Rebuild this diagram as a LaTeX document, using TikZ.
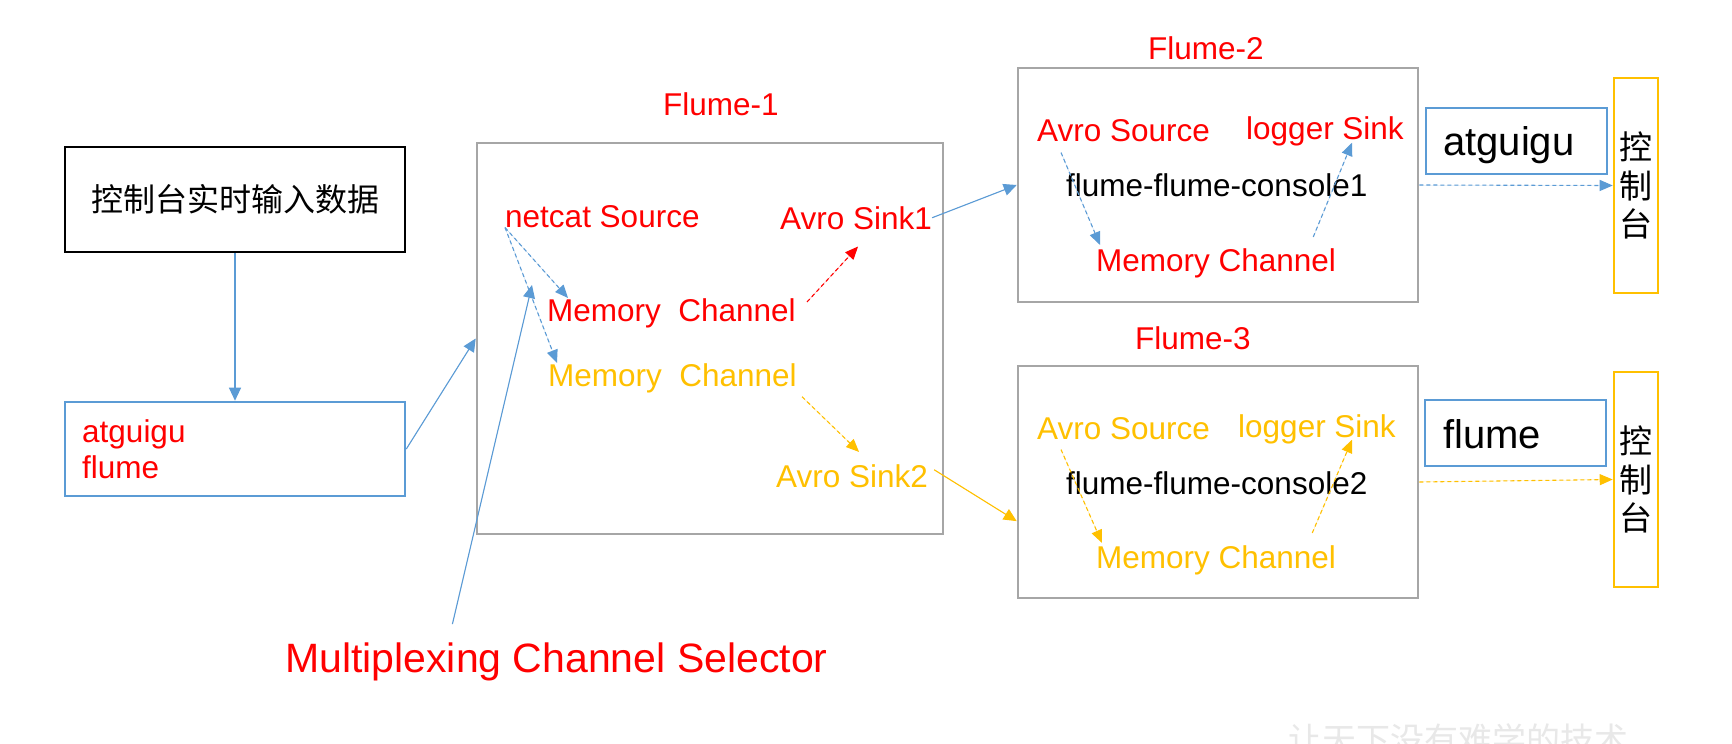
\documentclass[tikz,border=0pt]{standalone}
\usepackage{fontspec}
\setmainfont{Liberation Sans}
\newfontfamily\cjk{Noto Sans CJK SC}
\usetikzlibrary{arrows.meta,calc}
\definecolor{fred}{HTML}{FF0000}
\definecolor{fyel}{HTML}{FFC000}
\definecolor{fblue}{HTML}{5B9BD5}
\definecolor{fgray}{HTML}{A6A6A6}
\begin{document}
\begin{tikzpicture}[x=1pt,y=-1pt,
  lbl/.style={inner sep=0pt, anchor=base west, font=\fontsize{31.5}{36}\selectfont},
  big/.style={inner sep=0pt, anchor=base west, font=\fontsize{40}{44}\selectfont},
  box/.style={draw, inner sep=0pt, line width=2.6pt},
  graybox/.style={box, draw=fgray},
  bluebox/.style={box, draw=fblue},
  yelbox/.style={box, draw=fyel},
  arr/.style={line width=1.1pt, -{Triangle[length=13pt,width=12pt]}},
  darr/.style={line width=1.1pt, dash pattern=on 4pt off 3pt, -{Triangle[length=13pt,width=11pt]}},
]
\useasboundingbox (0,0) rectangle (1732,744);
\fill[white] (0,0) rectangle (1732,744);

% left column
\node[box, draw=black, minimum width=340pt, minimum height=105pt,
      font=\cjk\fontsize{32}{36}\selectfont] (in) at (235,199.5) {控制台实时输入数据};
\node[bluebox, minimum width=340pt, minimum height=94pt] (src) at (235,449) {};
\node[lbl, text=fred] (t1) at (82,442) {atguigu};
\node[lbl, text=fred] (t2) at (82,478) {flume};

% Flume-1
\node[graybox, minimum width=466pt, minimum height=391pt] (f1) at (710,338.5) {};
\node[lbl, text=fred] (f1l) at (663,115) {Flume-1};
\node[lbl, text=fred] (ns) at (505,227) {netcat Source};
\node[lbl, text=fred] (as1) at (780,229) {Avro Sink1};
\node[lbl, text=fred] (mr) at (547,321) {Memory~~Channel};
\node[lbl, text=fyel] (my) at (548,386) {Memory~~Channel};
\node[lbl, text=fyel] (as2) at (776,487) {Avro Sink2};

% Flume-2
\node[graybox, minimum width=400pt, minimum height=234pt] (f2) at (1218,185) {};
\node[lbl, text=fred] (f2l) at (1148,59) {Flume-2};
\node[lbl, text=fred] (av2) at (1037,141) {Avro Source};
\node[lbl, text=fred] (ls2) at (1246,139) {logger Sink};
\node[lbl] (c1) at (1066,196) {flume-flume-console1};
\node[lbl, text=fred] (mc2) at (1096,271) {Memory Channel};

% Flume-3
\node[graybox, minimum width=400pt, minimum height=232pt] (f3) at (1218,482) {};
\node[lbl, text=fred] (f3l) at (1135,349) {Flume-3};
\node[lbl, text=fyel] (av3) at (1037,439) {Avro Source};
\node[lbl, text=fyel] (ls3) at (1238,437) {logger Sink};
\node[lbl] (c2) at (1066,494) {flume-flume-console2};
\node[lbl, text=fyel] (mc3) at (1096,568) {Memory Channel};

% right side
\node[bluebox, minimum width=181pt, minimum height=66pt] (ob1) at (1516.5,141) {};
\node[big] (ot1) at (1443,155) {atguigu};
\node[bluebox, minimum width=181pt, minimum height=66pt] (ob2) at (1515.5,433) {};
\node[big] (ot2) at (1443,448) {flume};
\node[yelbox, minimum width=44pt, minimum height=215pt, align=center,
      font=\cjk\fontsize{33}{38.5}\selectfont] (yb1) at (1636,185.5) {控\\制\\台};
\node[yelbox, minimum width=44pt, minimum height=215pt, align=center,
      font=\cjk\fontsize{33}{38.5}\selectfont] (yb2) at (1636,479.5) {控\\制\\台};

% selector label
\node[inner sep=0pt, anchor=base west, text=fred, font=\fontsize{41}{46}\selectfont] (mcs) at (285,672) {Multiplexing Channel Selector};
\coordinate (sel) at (532,285);

% watermark
\node[inner sep=0pt, anchor=base west, text=black!9, font=\cjk\fontsize{34}{40}\selectfont] (wm) at (1288,752) {让天下没有难学的技术};

% connectors
\draw[arr, draw=fblue, fill=fblue] (in.south) -- (src.north);
\draw[arr, draw=fblue, fill=fblue] (src.east) -- (f1.west);
\draw[arr, draw=fblue, fill=fblue] ([xshift=-104pt,yshift=18pt]mcs.north) -- (sel);

\draw[darr, draw=fblue, fill=fblue] (ns.south west) -- ([xshift=21pt]mr.north west);
\draw[darr, draw=fblue, fill=fblue] (ns.south west) -- ([xshift=9pt]my.north west);
\draw[darr, draw=fred, fill=fred] ([xshift=11pt,yshift=-4pt]mr.north east) -- ([xshift=2pt,yshift=-17pt]as1.south);
\draw[darr, draw=fyel, fill=fyel] ([xshift=5pt,yshift=-4pt]my.south east) -- ([xshift=7pt,yshift=12pt]as2.north);

\draw[arr, draw=fblue, fill=fblue] (as1.east) -- (f2.west);
\draw[arr, draw=fyel, fill=fyel] ([xshift=6pt,yshift=6pt]as2.east) -- (f3.191);

\draw[darr, draw=fblue, fill=fblue] ([xshift=24pt,yshift=-11pt]av2.south west) -- ([xshift=4pt,yshift=3pt]mc2.north west);
\draw[darr, draw=fblue, fill=fblue] ([xshift=-23pt,yshift=11pt]mc2.north east) -- ([xshift=27pt,yshift=3pt]ls2.south);
\draw[darr, draw=fyel, fill=fyel] ([xshift=24pt,yshift=-10pt]av3.south west) -- ([xshift=6pt,yshift=2pt]mc3.north west);
\draw[darr, draw=fyel, fill=fyel] ([xshift=-24pt,yshift=12pt]mc3.north east) -- ([xshift=35pt,yshift=4pt]ls3.south);

\draw[darr, draw=fblue, fill=fblue] (f2.east) -- (yb1.west);
\draw[darr, draw=fyel, fill=fyel] (f3.east) -- (yb2.west);
\end{tikzpicture}
\end{document}
